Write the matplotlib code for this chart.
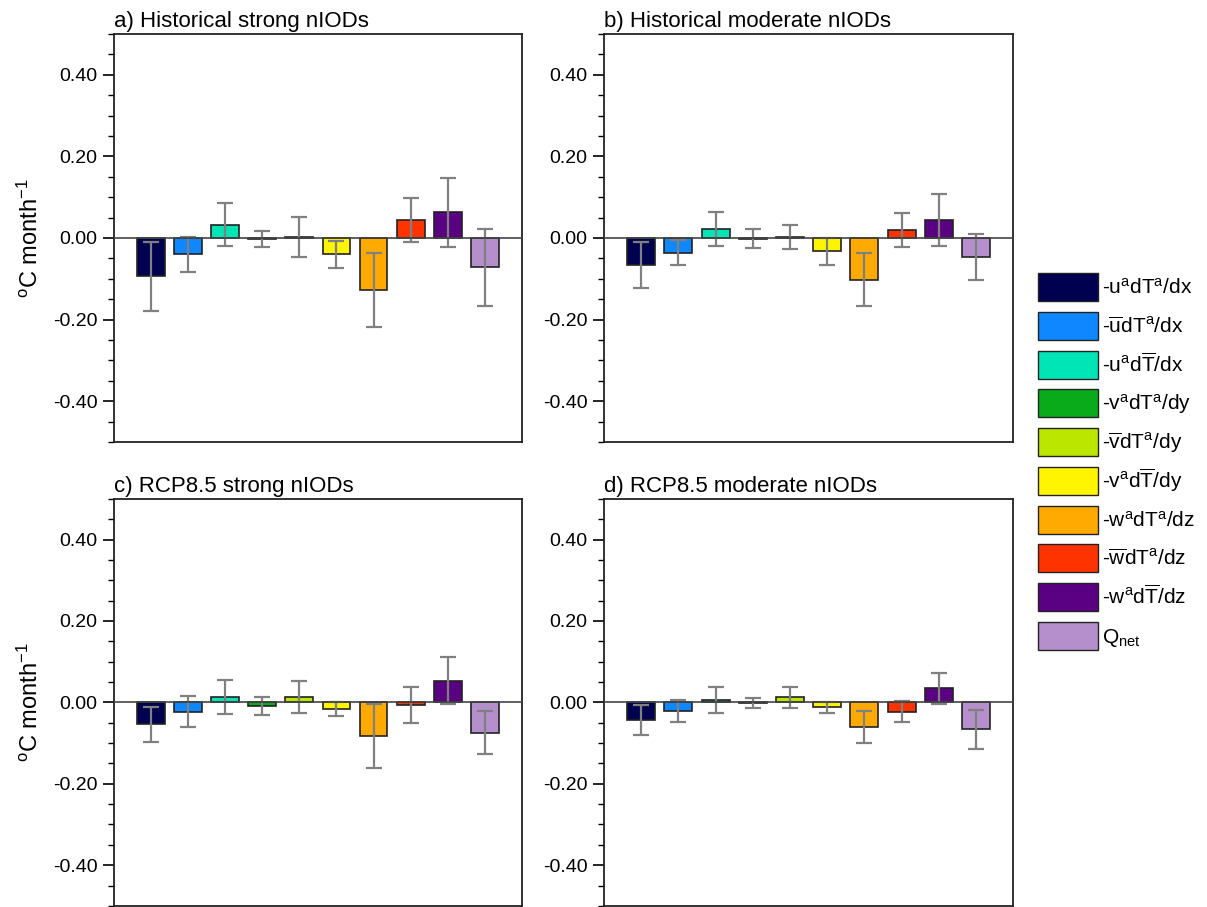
import numpy as np
import matplotlib
matplotlib.use("Agg")
import matplotlib.pyplot as plt
from matplotlib.patches import Patch
from matplotlib.ticker import MultipleLocator, FormatStrFormatter

plt.rcParams['font.family'] = ['Liberation Sans', 'DejaVu Sans']
plt.rcParams['mathtext.fontset'] = 'custom'
plt.rcParams['mathtext.rm'] = 'Liberation Sans'
plt.rcParams['mathtext.it'] = 'Liberation Sans'

terms = ['-$\\mathrm{u^{a}dT^{a}/dx}$', '-$\\mathrm{\\overline{u}dT^{a}/dx}$', '-$\\mathrm{u^{a}d\\overline{T}/dx}$',
         '-$\\mathrm{v^{a}dT^{a}/dy}$', '-$\\mathrm{\\overline{v}dT^{a}/dy}$', '-$\\mathrm{v^{a}d\\overline{T}/dy}$',
         '-$\\mathrm{w^{a}dT^{a}/dz}$', '-$\\mathrm{\\overline{w}dT^{a}/dz}$', '-$\\mathrm{w^{a}d\\overline{T}/dz}$',
         '$\\mathrm{Q_{net}}$']
colors = ['#000050', '#0f87ff', '#00e5b5', '#0aab1a', '#bbe600',
          '#fff500', '#ffaa00', '#ff3300', '#5a0082', '#b48fcc']

titles = ['a) Historical strong nIODs', 'b) Historical moderate nIODs',
          'c) RCP8.5 strong nIODs', 'd) RCP8.5 moderate nIODs']

hist_strong = [-0.094, -0.040, 0.033, -0.003, 0.002, -0.040, -0.128, 0.043, 0.063, -0.072]
hist_strong_err = [0.084, 0.043, 0.052, 0.020, 0.049, 0.033, 0.090, 0.054, 0.085, 0.095]
hist_mod = [-0.067, -0.036, 0.022, -0.002, 0.002, -0.032, -0.102, 0.020, 0.045, -0.047]
hist_mod_err = [0.056, 0.031, 0.042, 0.023, 0.029, 0.033, 0.065, 0.041, 0.064, 0.056]
rcp_strong = [-0.054, -0.023, 0.013, -0.010, 0.013, -0.016, -0.083, -0.006, 0.053, -0.074]
rcp_strong_err = [0.043, 0.038, 0.041, 0.022, 0.040, 0.018, 0.078, 0.045, 0.058, 0.054]
rcp_mod = [-0.043, -0.021, 0.007, -0.002, 0.012, -0.012, -0.060, -0.023, 0.035, -0.066]
rcp_mod_err = [0.036, 0.026, 0.032, 0.013, 0.027, 0.014, 0.040, 0.026, 0.038, 0.048]

values = [hist_strong, hist_mod, rcp_strong, rcp_mod]
errors = [hist_strong_err, hist_mod_err, rcp_strong_err, rcp_mod_err]

fig = plt.figure(figsize=(12.07, 9.07), dpi=100)
positions = [[0.0944, 0.5127, 0.338, 0.4498], [0.5004, 0.5127, 0.339, 0.4498],
             [0.0944, 0.0012, 0.338, 0.4488], [0.5004, 0.0012, 0.339, 0.4488]]

x = np.arange(1, 11)
for i in range(4):
    ax = fig.add_axes(positions[i])
    ax.bar(x, values[i], width=0.75, color=colors, edgecolor='#222222', linewidth=1.2, zorder=2)
    ax.errorbar(x, values[i], yerr=errors[i], fmt='none', ecolor='#808080',
                elinewidth=1.6, capsize=5.6, capthick=1.6, zorder=3)
    ax.axhline(0, color='#444444', lw=1.2, zorder=4)
    ax.set_xlim(0, 11)
    ax.set_ylim(-0.5, 0.5)
    ax.set_xticks([])
    ax.yaxis.set_major_locator(MultipleLocator(0.2))
    ax.yaxis.set_minor_locator(MultipleLocator(0.05))
    ax.yaxis.set_major_formatter(FormatStrFormatter('%.2f'))
    ax.tick_params(axis='y', which='major', direction='out', length=8, width=1.2, labelsize=14, pad=4)
    ax.tick_params(axis='y', which='minor', direction='out', length=4.5, width=1.0)
    ax.set_yticks([-0.4, -0.2, 0.0, 0.2, 0.4])
    for s in ax.spines.values():
        s.set_linewidth(1.3)
        s.set_color('#222222')
    ax.set_title(titles[i], loc='left', fontsize=16, pad=5)
    if i % 2 == 0:
        ax.set_ylabel('$\\mathrm{^{o}C\\ month^{-1}}$', fontsize=17, labelpad=7)

handles = [Patch(facecolor=c, edgecolor='#222222', linewidth=1.0) for c in colors]
fig.legend(handles, terms, loc='upper left', bbox_to_anchor=(0.86, 0.6987), frameon=False,
           fontsize=15, handlelength=2.88, handleheight=1.695, labelspacing=0.51,
           handletextpad=0.19, borderpad=0, borderaxespad=0)

fig.savefig('out.png', dpi=100)
